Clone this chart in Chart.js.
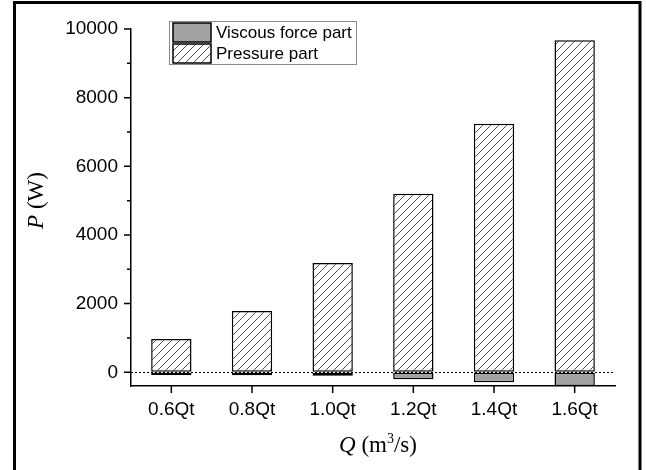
<!DOCTYPE html>
<html lang="en">
<head>
  <meta charset="UTF-8">
  <title>P vs Q</title>
  <style>
    html, body { margin: 0; padding: 0; background: #fff; }
    #chartBox { width: 646px; height: 470px; }
  </style>
</head>
<body>
  <div id="chartBox">
    <canvas id="powerChart" width="646" height="470"></canvas>
  </div>

  <script src="https://cdn.jsdelivr.net/npm/chart.js"></script>
  <script>
    // values
    const categories = ['0.6Qt', '0.8Qt', '1.0Qt', '1.2Qt', '1.4Qt', '1.6Qt'];
    const viscousPart = [-80, -90, -100, -200, -290, -400];
    const pressurePart = [970, 1786, 3184, 5203, 7243, 9670];
    const yTickValues = [0, 1000, 2000, 3000, 4000, 5000, 6000, 7000, 8000, 9000, 10000];
    const yMin = -400;
    const yMax = 10000;

    const tickFont = { family: 'Liberation Sans', size: 19 };
    const serif = 'Liberation Serif';

    // diagonal hatch for the pressure bars
    function makeHatch() {
      const c = document.createElement('canvas');
      c.width = 8;
      c.height = 8;
      const g = c.getContext('2d');
      g.fillStyle = '#fff';
      g.fillRect(0, 0, 8, 8);
      g.strokeStyle = '#3a3a3a';
      g.lineWidth = 0.9;
      g.beginPath();
      g.moveTo(0, 8); g.lineTo(8, 0);
      g.moveTo(-1, 1); g.lineTo(1, -1);
      g.moveTo(7, 9); g.lineTo(9, 7);
      g.stroke();
      return g.createPattern(c, 'repeat');
    }

    const ctx = document.getElementById('powerChart').getContext('2d');
    const hatch = makeHatch();

    // outer frame, tick marks, zero line, axis titles and legend
    const decorations = {
      id: 'decorations',
      beforeDraw(chart) {
        const c = chart.ctx;
        c.save();
        c.fillStyle = '#fff';
        c.fillRect(0, 0, chart.width, chart.height);
        c.strokeStyle = '#000';
        c.lineWidth = 3;
        c.strokeRect(14.5, 2.5, 625.5, 480);
        c.restore();
      },
      afterDatasetsDraw(chart) {
        const c = chart.ctx;
        const area = chart.chartArea;
        const y0 = Math.round(chart.scales.y.getPixelForValue(0)) + 0.5;
        c.save();
        c.strokeStyle = '#000';
        c.lineWidth = 1;
        c.setLineDash([2, 2]);
        c.beginPath();
        c.moveTo(area.left, y0);
        c.lineTo(area.right, y0);
        c.stroke();
        c.restore();
      },
      afterDraw(chart) {
        const c = chart.ctx;
        const area = chart.chartArea;
        const xs = chart.scales.x;
        const ys = chart.scales.y;
        c.save();
        c.strokeStyle = '#000';
        c.lineWidth = 1.5;
        c.beginPath();
        yTickValues.forEach(v => {
          const py = ys.getPixelForValue(v);
          const len = v % 2000 === 0 ? 7 : 4;
          c.moveTo(area.left - len, py);
          c.lineTo(area.left, py);
        });
        categories.forEach((cat, i) => {
          const px = xs.getPixelForValue(i);
          c.moveTo(px, area.bottom);
          c.lineTo(px, area.bottom + 7);
        });
        c.stroke();

        // y title: P (W)
        c.fillStyle = '#000';
        c.textBaseline = 'middle';
        c.translate(37, (area.top + area.bottom) / 2 - 7);
        c.rotate(-Math.PI / 2);
        c.font = 'italic 23px ' + serif;
        const wP = c.measureText('P').width;
        c.font = '23px ' + serif;
        const wRest = c.measureText(' (W)').width;
        let x = -(wP + wRest) / 2;
        c.font = 'italic 23px ' + serif;
        c.textAlign = 'left';
        c.fillText('P', x, 0);
        c.font = '23px ' + serif;
        c.fillText(' (W)', x + wP, 0);
        c.restore();

        // x title: Q (m3/s)
        c.save();
        c.fillStyle = '#000';
        c.textBaseline = 'alphabetic';
        c.textAlign = 'left';
        const parts = [
          { t: 'Q', f: 'italic 23px ' + serif, dy: 0 },
          { t: ' (m', f: '23px ' + serif, dy: 0 },
          { t: '3', f: '14px ' + serif, dy: -9 },
          { t: '/s)', f: '23px ' + serif, dy: 0 }
        ];
        let total = 0;
        parts.forEach(p => { c.font = p.f; p.w = c.measureText(p.t).width; total += p.w; });
        x = (area.left + area.right) / 2 + 5 - total / 2;
        const base = 452;
        parts.forEach(p => {
          c.font = p.f;
          c.fillText(p.t, x, base + p.dy);
          x += p.w;
        });
        c.restore();

        // legend
        c.save();
        c.strokeStyle = '#8a8a8a';
        c.lineWidth = 1;
        c.strokeRect(169.5, 21.5, 187, 43);
        c.font = '17px Liberation Sans';
        c.textBaseline = 'middle';
        c.textAlign = 'left';
        chart.data.datasets.forEach((ds, i) => {
          const top = 23 + i * 21;
          c.fillStyle = ds.backgroundColor;
          c.fillRect(173, top, 38, 19);
          c.strokeStyle = '#000';
          c.lineWidth = 1.5;
          c.strokeRect(173, top, 38, 19);
          c.fillStyle = '#000';
          c.fillText(ds.label, 216, top + 10);
        });
        c.restore();
      }
    };

    new Chart(ctx, {
      type: 'bar',
      data: {
        labels: categories,
        datasets: [
          {
            label: 'Viscous force part',
            data: viscousPart,
            backgroundColor: '#a2a2a2',
            borderColor: '#000',
            borderWidth: 1.5,
            borderSkipped: false,
            categoryPercentage: 1,
            barPercentage: 0.5
          },
          {
            label: 'Pressure part',
            data: pressurePart,
            backgroundColor: hatch,
            borderColor: '#000',
            borderWidth: 1.5,
            borderSkipped: false,
            categoryPercentage: 1,
            barPercentage: 0.5
          }
        ]
      },
      options: {
        responsive: false,
        devicePixelRatio: 1,
        animation: false,
        layout: { padding: { top: 29, right: 31, left: 0, bottom: 0 } },
        plugins: {
          legend: { display: false },
          tooltip: { enabled: false }
        },
        scales: {
          x: {
            stacked: true,
            grid: { display: true, drawOnChartArea: false, drawTicks: true, tickLength: 7, tickColor: 'rgba(0,0,0,0)' },
            border: { display: true, color: '#000', width: 1.5 },
            ticks: { font: tickFont, color: '#000', padding: 5, maxRotation: 0 },
            afterFit(scale) { scale.height = 84; }
          },
          y: {
            stacked: true,
            min: yMin,
            max: yMax,
            grid: { display: true, drawOnChartArea: false, drawTicks: true, tickLength: 7, tickColor: 'rgba(0,0,0,0)' },
            border: { display: true, color: '#000', width: 1.5 },
            afterBuildTicks(scale) {
              scale.ticks = yTickValues.map(v => ({ value: v }));
            },
            ticks: {
              font: tickFont,
              color: '#000',
              padding: 6,
              callback: value => (value % 2000 === 0 ? String(value) : '')
            },
            afterFit(scale) { scale.width = 131; }
          }
        }
      },
      plugins: [decorations]
    });
  </script>
</body>
</html>
